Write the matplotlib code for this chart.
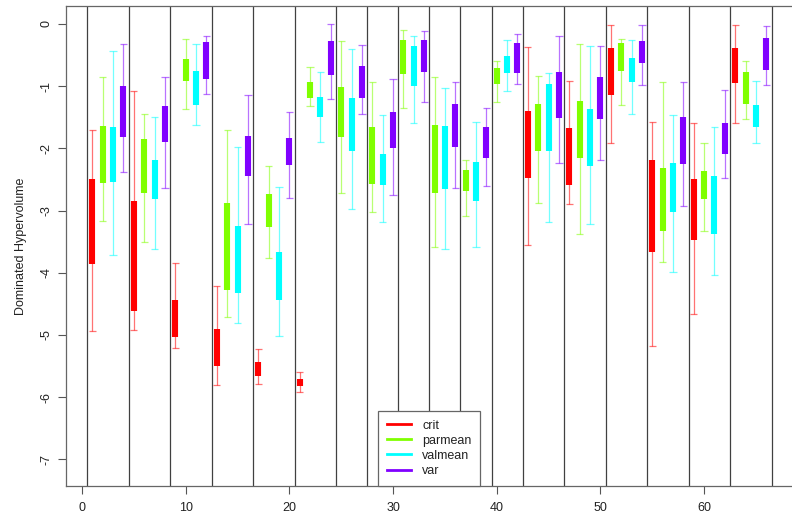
import numpy as np
import matplotlib
matplotlib.use('Agg')
import matplotlib.pyplot as plt

plt.rcParams['font.family'] = ['Liberation Sans', 'DejaVu Sans']
plt.rcParams['axes.unicode_minus'] = False

# group separators along the x axis
separators = [0.5, 4.5, 8.5, 12.5, 16.5, 20.5, 24.5, 27.5, 30.5, 33.5,
              36.5, 39.5, 42.5, 46.5, 50.5, 54.5, 58.5, 62.5, 66.5]

# crit
crit_pos = [1, 5, 9, 13, 17, 21, 43, 47, 51, 55, 59, 63]
crit_hi = [-1.70, -1.07, -3.85, -4.21, -5.23, -5.59, -0.37, -0.91, -0.02, -1.57, -1.60, -0.02]
crit_q3 = [-2.49, -2.84, -4.44, -4.91, -5.43, -5.70, -1.40, -1.67, -0.39, -2.18, -2.49, -0.39]
crit_q1 = [-3.86, -4.61, -5.04, -5.50, -5.66, -5.82, -2.48, -2.59, -1.14, -3.66, -3.48, -0.95]
crit_lo = [-4.93, -4.92, -5.21, -5.80, -5.79, -5.92, -3.56, -2.90, -1.92, -5.17, -4.66, -1.60]

# parmean
parmean_pos = [2, 6, 10, 14, 18, 22, 25, 28, 31, 34, 37, 40, 44, 48, 52, 56, 60, 64]
parmean_hi = [-0.85, -1.45, -0.24, -1.71, -2.28, -0.69, -0.27, -0.93, -0.09,
              -0.85, -2.18, -0.60, -0.84, -0.32, -0.24, -0.94, -1.92, -0.60]
parmean_q3 = [-1.64, -1.85, -0.56, -2.88, -2.73, -0.94, -1.02, -1.66, -0.26,
              -1.63, -2.35, -0.71, -1.29, -1.24, -0.31, -2.31, -2.36, -0.78]
parmean_q1 = [-2.55, -2.72, -0.92, -4.27, -3.27, -1.19, -1.82, -2.57, -0.80,
              -2.71, -2.68, -0.97, -2.05, -2.16, -0.76, -3.33, -2.81, -1.29]
parmean_lo = [-3.17, -3.51, -1.36, -4.71, -3.77, -1.32, -2.72, -3.03, -1.35,
              -3.59, -3.09, -1.26, -2.88, -3.37, -1.31, -3.83, -3.33, -1.53]

# valmean
valmean_pos = [3, 7, 11, 15, 19, 23, 26, 29, 32, 35, 38, 41, 45, 49, 53, 57, 61, 65]
valmean_hi = [-0.44, -1.50, -0.33, -1.97, -2.62, -0.77, -0.40, -1.46, -0.20,
              -1.03, -1.58, -0.25, -0.79, -0.36, -0.26, -1.46, -1.66, -0.92]
valmean_q3 = [-1.65, -2.19, -0.76, -3.25, -3.66, -1.17, -1.19, -2.09, -0.35,
              -1.64, -2.22, -0.51, -0.96, -1.37, -0.54, -2.24, -2.45, -1.31]
valmean_q1 = [-2.54, -2.82, -1.30, -4.32, -4.44, -1.49, -2.05, -2.59, -0.99,
              -2.66, -2.85, -0.79, -2.04, -2.29, -0.94, -3.03, -3.38, -1.66]
valmean_lo = [-3.72, -3.61, -1.63, -4.80, -5.02, -1.90, -2.97, -3.19, -1.60,
              -3.61, -3.59, -1.07, -3.18, -3.22, -1.45, -3.99, -4.04, -1.92]

# var
var_pos = [4, 8, 12, 16, 20, 24, 27, 30, 33, 36, 39, 42, 46, 50, 54, 58, 62, 66]
var_hi = [-0.33, -0.86, -0.20, -1.14, -1.41, -0.005, -0.34, -0.89, -0.12,
          -0.93, -1.35, -0.16, -0.20, -0.35, -0.01, -0.94, -1.06, -0.03]
var_q3 = [-1.00, -1.32, -0.29, -1.80, -1.83, -0.27, -0.67, -1.41, -0.25,
          -1.29, -1.66, -0.31, -0.77, -0.86, -0.27, -1.50, -1.60, -0.23]
var_q1 = [-1.81, -1.90, -0.89, -2.44, -2.27, -0.82, -1.19, -2.00, -0.78,
          -1.97, -2.16, -0.79, -1.51, -1.52, -0.63, -2.25, -2.09, -0.74]
var_lo = [-2.38, -2.64, -1.13, -3.22, -2.80, -1.21, -1.44, -2.75, -1.25,
          -2.63, -2.61, -0.96, -2.24, -2.19, -0.98, -2.92, -2.48, -0.98]

series = [
    ('crit', '#FF0000', crit_pos, crit_lo, crit_q1, crit_q3, crit_hi),
    ('parmean', '#80FF00', parmean_pos, parmean_lo, parmean_q1, parmean_q3, parmean_hi),
    ('valmean', '#00FFFF', valmean_pos, valmean_lo, valmean_q1, valmean_q3, valmean_hi),
    ('var', '#8000FF', var_pos, var_lo, var_q1, var_q3, var_hi),
]

fig = plt.figure(figsize=(7.92, 5.16), dpi=100)
ax = fig.add_axes([0.083, 0.0587, 0.927, 0.9297])

# vertical lines between problem groups
for s in separators:
    ax.axvline(s, color='#404040', lw=0.9, zorder=1)

cap = 0.35
for name, col, pos, lo, q1, q3, hi in series:
    pos = np.asarray(pos)
    # whiskers with caps, then the thick interquartile bar on top
    ax.vlines(pos, lo, hi, colors=col, lw=0.9, alpha=0.55, zorder=2)
    ax.hlines(lo, pos - cap, pos + cap, colors=col, lw=0.9, alpha=0.55, zorder=2)
    ax.hlines(hi, pos - cap, pos + cap, colors=col, lw=0.9, alpha=0.55, zorder=2)
    ax.vlines(pos, q1, q3, colors=col, lw=4.4, capstyle='butt', zorder=3)
    ax.plot([], [], color=col, lw=2, label=name)

ax.set_xlim(-1.57, 69.24)
ax.set_ylim(-7.423, 0.289)
ax.set_xticks([0, 10, 20, 30, 40, 50, 60])
ax.set_yticks([0, -1, -2, -3, -4, -5, -6, -7])
ax.tick_params(axis='both', length=5.5, width=0.8, color='#555555',
               labelsize=9, labelcolor='#222222', pad=6)
ax.tick_params(axis='y', pad=4)
for lab in ax.get_yticklabels():
    lab.set_rotation(90)
    lab.set_va('center')
ax.set_ylabel('Dominated Hypervolume', fontsize=9, color='#222222', labelpad=10)

for sp in ax.spines.values():
    sp.set_color('#666666')
    sp.set_linewidth(0.9)

leg_x = ax.transAxes.inverted().transform(ax.transData.transform((33.5, 0)))[0]
leg = ax.legend(loc='lower center', bbox_to_anchor=(leg_x, 0), borderaxespad=0,
                fancybox=False, edgecolor='#666666', framealpha=1, fontsize=9,
                handlelength=1.9, handletextpad=0.9, labelspacing=0.25,
                borderpad=0.7)
leg.get_frame().set_linewidth(0.9)
for t in leg.get_texts():
    t.set_color('#222222')

fig.savefig('out.png', dpi=100)
